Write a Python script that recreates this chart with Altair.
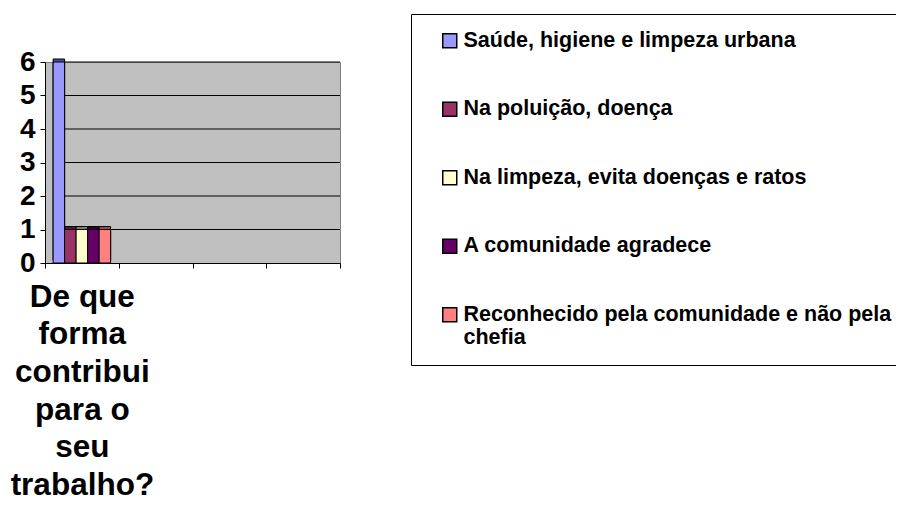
import json
import altair as alt
import pandas as pd

categories = ["De que forma contribui para o seu trabalho?", "c2", "c3", "c4"]
category_lines = ["De que", "forma", "contribui", "para o", "seu", "trabalho?"]
series = [
    "Saúde, higiene e limpeza urbana",
    "Na poluição, doença",
    "Na limpeza, evita doenças e ratos",
    "A comunidade agradece",
    "Reconhecido pela comunidade e não pela chefia",
]
values = [6, 1, 1, 1, 1]
colors = ["#9999FF", "#993366", "#FFFFCC", "#660066", "#FF8080"]
dark_colors = ["#4D4D99", "#4D1A33", "#808066", "#330033", "#994D4D"]
y_ticks = [0, 1, 2, 3, 4, 5, 6]
grid_values = [1, 2, 3, 4, 5, 6]
wrapped_label = ["Reconhecido pela comunidade e não pela", "chefia"]

df = pd.DataFrame({
    "categoria": [categories[0]] * len(series),
    "serie": series,
    "sombra": series,
    "valor": values,
})
grid_df = pd.DataFrame({"valor": grid_values})

FONT = "Liberation Sans"

x_label_expr = (
    f"datum.value == {json.dumps(categories[0], ensure_ascii=False)} ? "
    f"{json.dumps(category_lines, ensure_ascii=False)} : ''"
)
legend_label_expr = (
    f"datum.label == {json.dumps(series[4], ensure_ascii=False)} ? "
    f"{json.dumps(wrapped_label, ensure_ascii=False)} : datum.label"
)

x_enc = alt.X(
    "categoria:N",
    scale=alt.Scale(domain=categories, paddingInner=0, paddingOuter=0),
    axis=alt.Axis(
        title=None, labelAngle=0, tickBand="extent", labelExpr=x_label_expr,
        labelFont=FONT, labelFontSize=31.5, labelFontWeight="bold",
        labelLineHeight=37.7, labelColor="black", domainColor="black",
        tickColor="black", tickSize=5, labelPadding=13, grid=False,
        labelLimit=400, labelOverlap=False,
    ),
)
xoff_enc = alt.XOffset(
    "serie:N", scale=alt.Scale(domain=series, paddingInner=0, paddingOuter=0.705)
)
y_scale = alt.Scale(domain=[0, 6], nice=False)
y_enc = alt.Y(
    "valor:Q",
    scale=y_scale,
    axis=alt.Axis(
        title=None, values=y_ticks, labelFont=FONT, labelFontSize=28,
        labelFontWeight="bold", labelColor="black", domainColor="black",
        tickColor="black", tickSize=5, labelPadding=5, grid=False,
    ),
)

grid = alt.Chart(grid_df).mark_rule(color="black", strokeWidth=1).encode(
    y=y_enc,
    x=alt.value(8),
    x2=alt.value(295),
)

depth = alt.Chart(df).mark_bar(stroke="black", strokeWidth=1, xOffset=4, yOffset=-3).encode(
    x=x_enc,
    xOffset=xoff_enc,
    y=y_enc,
    fill=alt.Fill("sombra:N", scale=alt.Scale(domain=series, range=dark_colors), legend=None),
)

front = alt.Chart(df).mark_bar(stroke="black", strokeWidth=1).encode(
    x=x_enc,
    xOffset=xoff_enc,
    y=y_enc,
    color=alt.Color(
        "serie:N",
        scale=alt.Scale(domain=series, range=colors),
        legend=alt.Legend(
            title=None, orient="none", legendX=366, legendY=-48,
            symbolType="square", symbolSize=196, symbolStrokeColor="black",
            symbolStrokeWidth=1.5, symbolOffset=12, labelOffset=3,
            labelFont=FONT, labelFontSize=21.5, labelFontWeight="bold",
            labelColor="black", labelLimit=1000, rowPadding=45.5, padding=16,
            strokeColor="black", fillColor="white", labelExpr=legend_label_expr,
        ),
    ),
)

chart = alt.layer(grid, depth, front).resolve_scale(
    color="independent", fill="independent"
).properties(
    width=295,
    height=201,
    autosize=alt.AutoSizeParams(type="none"),
    padding={"left": 37, "top": 54, "right": 556, "bottom": 238},
).configure_view(
    fill="#C0C0C0", stroke="#808080", strokeWidth=1
)

chart.save("out.html", embed_options={"renderer": "svg", "actions": False})
